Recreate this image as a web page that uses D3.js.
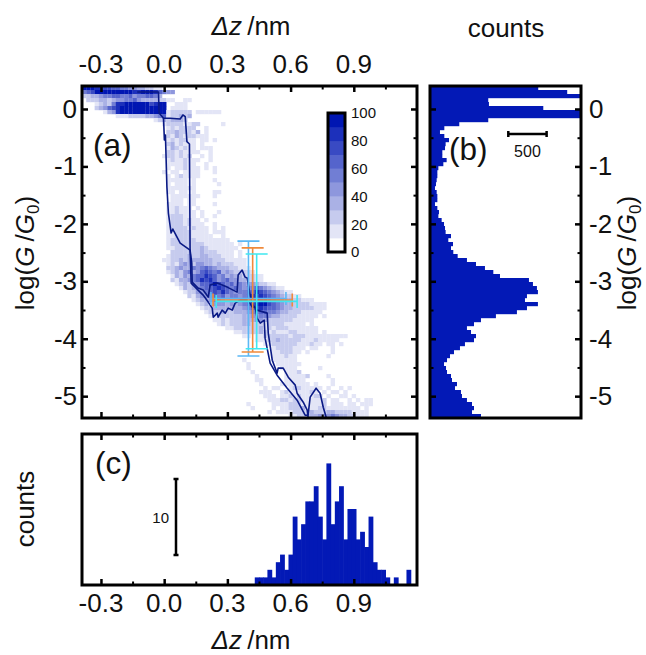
<!DOCTYPE html>
<html>
<head>
<meta charset="utf-8">
<script src="https://d3js.org/d3.v7.min.js"></script>
<style>
  body { margin: 0; background: #fff; }
  text { font-family: "Liberation Sans", Arial, sans-serif; fill: #111; }
  .frame { fill: none; stroke: #000; stroke-width: 3; }
  .axis path { display: none; }
  .axis line { stroke: #000; stroke-width: 2.5; }
  .minor text { display: none; }
  .minor line { stroke-width: 2; }
  .cbar text { font-size: 15px; }
  .tl { font-size: 26px; }
  .title { font-size: 26px; }
  .panel { font-size: 31.5px; }
  .scalebar { stroke: #000; stroke-width: 2.5; fill: none; }
</style>
</head>
<body>
<svg id="chart" width="646" height="655"></svg>
<script>
const zMajor = [-0.3, 0.0, 0.3, 0.6, 0.9];
const zMinor = [-0.15, 0.15, 0.45, 0.75, 1.05];
const logMajor = [0, -1, -2, -3, -4, -5];
const logMinor = [-0.5, -1.5, -2.5, -3.5, -4.5];
const zBinStart = -0.39, zBinWidth = 0.02;
const logBinTop = 0.4, logBinHeight = 5.78 / 83;
const colorTicks = [0, 20, 40, 60, 80, 100];
const colorSteps = [0, 10, 20, 30, 40, 50, 60, 70, 80, 90];

// 2D histogram, one row per log(G) bin from the top: [first z bin, counts in tens, . = empty]
const heatRows = [
  [0, "9998877665544332211"],
  [0, "5679999999998899986544"],
  [0, "2233455665564556653"],
  [1, "222332344556433332211..11"],
  [3, "12325889999997899..111"],
  [3, "23467899999999999.1111"],
  [5, "134899999999999122222.111111"],
  [8, "111222233456122323"],
  [17, "12323332"],
  [19, "122221122.....1"],
  [20, "1212222..1"],
  [20, "22322213.1"],
  [20, "2132122111"],
  [20, "1212211.11.1"],
  [20, "2312111.1"],
  [20, "1321211.111"],
  [20, "22121111..1"],
  [19, "1221212..1.1"],
  [20, "12112111..1"],
  [20, "1111211..1"],
  [20, "1.112111.1.1"],
  [19, "1.11.1111...1"],
  [20, "1.121111"],
  [20, "11111.1....1"],
  [20, "1.111.1.....1"],
  [20, "1111111"],
  [20, "11.11.1....11"],
  [21, "1111111...1"],
  [21, "111.11"],
  [20, "1111.11....1"],
  [20, "112111.1"],
  [20, "1121111.1...1"],
  [20, "1222111.1..1"],
  [20, "12221211.1"],
  [20, "122212111..1"],
  [20, "1222212111.1.1"],
  [20, "1122221111.111"],
  [20, "11222211111..1"],
  [20, "122222211111111"],
  [20, "1222222221111111.1"],
  [20, "11222222321111111"],
  [21, "222222232221111.1"],
  [20, "1222232233222111.1"],
  [19, "11223233333322211111"],
  [20, "1213432443323222111"],
  [20, "22343354565433322111"],
  [20, "123245346765634322221"],
  [21, "1324356687645343322211"],
  [21, "2133456878645644332211"],
  [22, "123244667976564544432211"],
  [23, "1323456678765654556543211"],
  [24, "12244567686545566876543211"],
  [25, "213445656455456878765432211"],
  [26, "12334554344566798876543322111"],
  [27, "1232444343456789976543322221111"],
  [28, "122333333345678766543322222111"],
  [29, "1222322333455665543322211111"],
  [30, "11222222334455433222211111.1"],
  [31, "112122233344322222211111"],
  [32, "121222332221222211111.1"],
  [34, "1122222231212221111111"],
  [36, "11222232121112211111.1"],
  [38, "11.1122222212221111111111"],
  [41, "11122322222111211111"],
  [43, "11222222111211.11.1"],
  [45, "12222111.11...1"],
  [45, "1122211.1.....1"],
  [45, "111211.......1"],
  [38, "1......111111"],
  [39, "1......111111"],
  [39, "1.......1111.....1"],
  [40, "1.......1112"],
  [41, "1......111112....1"],
  [41, "11.....11111......1"],
  [42, "1....1111111.1...1"],
  [43, "1.11..12211111.1..1.1"],
  [42, "111..121111121.1.11.1"],
  [43, "111.1121211122.1..11.1"],
  [44, "11122122111112.11..1.1.11"],
  [39, "1.....1111222111112.111.11.111"],
  [40, "1....1.1122231112211111111.1"],
  [44, "1.1111222232223322221111"],
  [49, "1122333444543322111"]
];

// single traces [dz, logG]
const traceA = [[-0.128,0.296],[-0.033,0.296],[-0.027,0.296],[-0.024,-0.07],[-0.003,-0.162],[0.028,-0.162],[0.076,-0.174],[0.089,-0.105],[0.1,-0.134],[0.108,-0.57],[0.12,-0.61],[0.123,-2.456],[0.131,-2.683],[0.133,-3.014],[0.161,-3.118],[0.185,-3.153],[0.209,-3.275],[0.218,-3.066],[0.252,-3.031],[0.299,-3.101],[0.346,-3.188],[0.351,-2.892],[0.37,-2.805],[0.384,-2.927],[0.394,-2.944],[0.408,-3.24],[0.422,-3.415],[0.441,-3.502],[0.489,-3.554],[0.494,-3.902],[0.513,-4.373],[0.536,-4.599],[0.541,-4.512],[0.565,-4.512],[0.589,-4.669],[0.622,-4.808],[0.631,-4.948],[0.66,-5.105],[0.679,-5.244],[0.683,-5.366]];
const traceB = [[-0.003,-0.157],[0.001,-0.54],[0.006,-0.453],[0.013,-1.359],[0.02,-1.812],[0.033,-2.16],[0.041,-2.091],[0.076,-2.334],[0.123,-2.456],[0.128,-3.031],[0.147,-3.101],[0.161,-3.153],[0.185,-3.24],[0.209,-3.362],[0.228,-3.467],[0.233,-3.624],[0.252,-3.554],[0.256,-3.624],[0.275,-3.502],[0.29,-3.554],[0.304,-3.467],[0.323,-3.502],[0.337,-3.38],[0.361,-3.328],[0.399,-3.328],[0.418,-3.449],[0.432,-3.449],[0.441,-3.641],[0.456,-3.728],[0.475,-3.676],[0.479,-3.99],[0.503,-4.425],[0.536,-4.634],[0.584,-4.861],[0.631,-5.07],[0.669,-5.331],[0.683,-5.331],[0.693,-5.017],[0.721,-4.861],[0.74,-4.948],[0.755,-5.192],[0.769,-5.366]];

// mean +- sd crosses: z, zErr, logG, logGErr, colour
const crosses = [
  [0.4, 0.178, -3.3, 1.0, "#5cb8f5"],
  [0.42, 0.188, -3.325, 0.907, "#f08a3c"],
  [0.439, 0.192, -3.35, 0.825, "#40e8f0"]
];

// panel (b), counts per log(G) bin from the top
const logCounts = [1412,1790,1970,760,769,1478,2000,2000,760,382,187,130,187,248,204,196,161,161,217,174,109,96,96,87,78,65,87,96,96,65,96,117,109,152,183,196,204,274,239,300,274,304,361,482,600,717,826,913,1291,1343,1395,1408,1265,1239,1408,1265,1134,860,665,574,482,535,600,574,456,391,313,261,222,183,209,222,274,287,352,326,404,417,482,548,574,548,665];

// panel (c), counts per z bin
const zCounts = [0,0,0,0,0,0,0,0,0,0,0,0,0,0,0,0,0,0,0,0,0,0,0,0,0,0,0,0,0,0,0,0,0,0,0,0,0,0,0,0,0,1,1,1,2,1,3,4,2,4,9,6,8,11,11,13,9,6,16,8,11,13,6,10,10,6,7,5,9,3,2,2,1,0,1,0,0,2,0,0];

const svg = d3.select("#chart");
const barColor = "#0319b6";

const x = d3.scaleLinear().domain([-0.39, 1.2]).range([82, 417]);
const y = d3.scaleLinear().domain([0.4, -5.38]).range([86, 418]);
const xB = d3.scaleLinear().domain([0, 1970]).range([430, 581]);
const yC = d3.scaleLinear().domain([0, 19.87]).range([585, 434]);
const yBar = d3.scaleLinear().domain([0, 100]).range([252, 113]);

const palette = d3.quantize(d3.interpolateRgb("#ffffff", "#0016b2"), colorSteps.length);
const color = d3.scaleQuantize().domain([0, 100]).range(palette);

const binX = i => zBinStart + i * zBinWidth;
const binY = j => logBinTop - j * logBinHeight;

// flatten the rows into cells
const cells = [];
heatRows.forEach((row, j) => {
  row[1].split("").forEach((c, k) => {
    if (c !== ".") cells.push({ i: row[0] + k, j: j, value: +c * 10 + 5 });
  });
});

// panel (a)
svg.append("g").selectAll("rect")
  .data(cells)
  .join("rect")
  .attr("x", d => x(binX(d.i)))
  .attr("y", d => y(binY(d.j)))
  .attr("width", x(binX(1)) - x(binX(0)) + 0.2)
  .attr("height", y(binY(1)) - y(binY(0)) + 0.2)
  .attr("fill", d => color(d.value));

const line = d3.line().x(d => x(d[0])).y(d => y(d[1]));
svg.append("g").selectAll("path")
  .data([traceA, traceB])
  .join("path")
  .attr("d", line)
  .attr("fill", "none")
  .attr("stroke", "#0a1a85")
  .attr("stroke-width", 1.6)
  .attr("stroke-linejoin", "round");

const crossG = svg.append("g").selectAll("g").data(crosses).join("g")
  .attr("stroke", d => d[4])
  .attr("stroke-width", 1.6)
  .attr("fill", "none");
crossG.append("path").attr("d", d => {
  const left = x(d[0] - d[1]), right = x(d[0] + d[1]), midY = y(d[2]);
  return `M${left},${midY}H${right}M${left},${midY - 6.5}V${midY + 6.5}M${right},${midY - 6.5}V${midY + 6.5}`;
});
crossG.append("path").attr("d", d => {
  const top = y(d[2] + d[3]), bottom = y(d[2] - d[3]), midX = x(d[0]);
  return `M${midX},${top}V${bottom}M${midX - 11},${top}H${midX + 11}M${midX - 11},${bottom}H${midX + 11}`;
});

// colour bar
svg.append("g").selectAll("rect")
  .data(colorSteps)
  .join("rect")
  .attr("x", 328)
  .attr("width", 17)
  .attr("y", d => yBar(d + 10))
  .attr("height", yBar(0) - yBar(10) + 0.3)
  .attr("fill", d => color(d + 5));
svg.append("rect").attr("class", "frame")
  .attr("x", 328).attr("y", yBar(100)).attr("width", 17).attr("height", yBar(0) - yBar(100));
svg.append("g").attr("class", "axis cbar")
  .attr("transform", "translate(345,0)")
  .call(d3.axisRight(yBar).tickValues(colorTicks).tickSize(0).tickPadding(6));

// panel (b)
svg.append("g").selectAll("rect")
  .data(logCounts)
  .join("rect")
  .attr("x", xB(0))
  .attr("y", (d, j) => y(binY(j)))
  .attr("width", d => Math.min(xB(d), xB.range()[1]) - xB(0))
  .attr("height", y(binY(1)) - y(binY(0)) + 0.2)
  .attr("fill", barColor);

// panel (c)
svg.append("g").selectAll("rect")
  .data(zCounts)
  .join("rect")
  .attr("x", (d, i) => x(binX(i)))
  .attr("y", d => yC(d))
  .attr("width", x(binX(1)) - x(binX(0)) + 0.6)
  .attr("height", d => yC(0) - yC(d))
  .attr("fill", barColor);

// axes, ticks point inward
function ticks(axisFn, scale, major, minor, tx, ty) {
  svg.append("g").attr("class", "axis minor")
    .attr("transform", `translate(${tx},${ty})`)
    .call(axisFn(scale).tickValues(minor).tickSize(-3.5));
  svg.append("g").attr("class", "axis")
    .attr("transform", `translate(${tx},${ty})`)
    .call(axisFn(scale).tickValues(major).tickSize(-6).tickFormat(() => ""));
}

const zLabel = d => d.toFixed(1);
const logLabel = d => String(d);

// panel a
ticks(d3.axisTop, x, zMajor, zMinor, 0, 86);
ticks(d3.axisBottom, x, zMajor, zMinor, 0, 418);
ticks(d3.axisLeft, y, logMajor, logMinor, 82, 0);
ticks(d3.axisRight, y, logMajor, logMinor, 417, 0);
// panel b
ticks(d3.axisLeft, y, logMajor, logMinor, 430, 0);
ticks(d3.axisRight, y, logMajor, logMinor, 581, 0);
// panel c
ticks(d3.axisTop, x, zMajor, zMinor, 0, 434);
ticks(d3.axisBottom, x, zMajor, zMinor, 0, 585);

// tick labels
svg.append("g").selectAll("text").data(zMajor).join("text")
  .attr("class", "tl").attr("x", d => x(d)).attr("y", 73)
  .attr("text-anchor", "middle").text(zLabel);
svg.append("g").selectAll("text").data(zMajor).join("text")
  .attr("class", "tl").attr("x", d => x(d)).attr("y", 612)
  .attr("text-anchor", "middle").text(zLabel);
svg.append("g").selectAll("text").data(logMajor).join("text")
  .attr("class", "tl").attr("x", 77).attr("y", d => y(d) + 9)
  .attr("text-anchor", "end").text(logLabel);
svg.append("g").selectAll("text").data(logMajor).join("text")
  .attr("class", "tl").attr("x", 589).attr("y", d => y(d) + 9)
  .attr("text-anchor", "start").text(logLabel);

// frames
[[82, 86, 335, 332], [430, 86, 151, 332], [82, 434, 335, 151]].forEach(f => {
  svg.append("rect").attr("class", "frame")
    .attr("x", f[0]).attr("y", f[1]).attr("width", f[2]).attr("height", f[3]);
});

// titles
function zTitle(cx, by) {
  const t = svg.append("text").attr("class", "title")
    .attr("x", cx).attr("y", by).attr("text-anchor", "middle");
  t.append("tspan").style("font-style", "italic").text("\u0394z");
  t.append("tspan").text("\u2009/nm");
}
zTitle(251, 35);
zTitle(251, 649);

function logTitle(px, py) {
  const t = svg.append("text").attr("class", "title")
    .attr("transform", `translate(${px},${py}) rotate(-90)`).attr("text-anchor", "middle");
  t.append("tspan").text("log(");
  t.append("tspan").style("font-style", "italic").text("G");
  t.append("tspan").text("\u2009/");
  t.append("tspan").style("font-style", "italic").text("G");
  t.append("tspan").attr("dy", 5).style("font-size", "17px").text("0");
  t.append("tspan").attr("dy", -5).text(")");
}
logTitle(34, 253);
logTitle(636, 253);

svg.append("text").attr("class", "title").attr("x", 506).attr("y", 37)
  .attr("text-anchor", "middle").text("counts");
svg.append("text").attr("class", "title")
  .attr("transform", "translate(34,509) rotate(-90)")
  .attr("text-anchor", "middle").text("counts");

svg.append("text").attr("class", "panel").attr("x", 93).attr("y", 156).text("(a)");
svg.append("text").attr("class", "panel").attr("x", 449).attr("y", 160).text("(b)");
svg.append("text").attr("class", "panel").attr("x", 95).attr("y", 474).text("(c)");

// scale bars
const bar500 = [xB(0) + 78.3, xB(500) + 78.3];
svg.append("path").attr("class", "scalebar")
  .attr("d", `M${bar500[0]},134H${bar500[1]}M${bar500[0]},131V137M${bar500[1]},131V137`);
svg.append("text").attr("x", (bar500[0] + bar500[1]) / 2).attr("y", 157)
  .attr("text-anchor", "middle").style("font-size", "16px").text("500");

const bar10 = [yC(10) - 30, yC(0) - 30];
svg.append("path").attr("class", "scalebar")
  .attr("d", `M176,${bar10[0]}V${bar10[1]}M173.5,${bar10[0]}H178.5M173.5,${bar10[1]}H178.5`);
svg.append("text").attr("x", 169).attr("y", 523)
  .attr("text-anchor", "end").style("font-size", "15px").text("10");
</script>
</body>
</html>
